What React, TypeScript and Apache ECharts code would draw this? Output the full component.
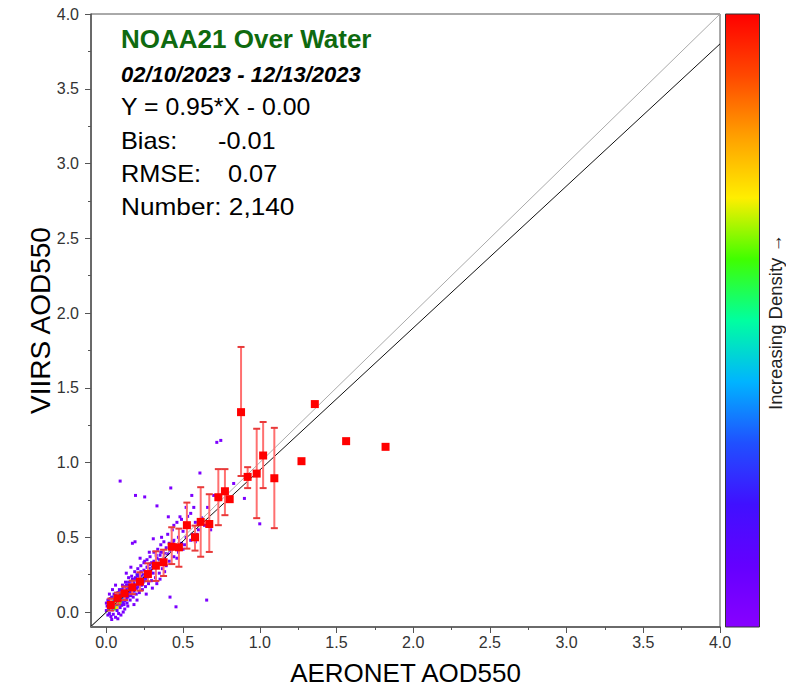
import React, { useEffect, useRef } from "react";
import * as echarts from "echarts";

const SANS = "'Liberation Sans', Arial, sans-serif";

const xLabelValues = [0, 0.5, 1, 1.5, 2, 2.5, 3, 3.5, 4];
const minorTickValues = [0, 0.25, 0.5, 0.75, 1, 1.25, 1.5, 1.75, 2, 2.25, 2.5, 2.75, 3, 3.25, 3.5, 3.75, 4];

const oneToOneLine = [[-0.1, -0.1], [4.0, 4.0]];
const fitLine = [[-0.1, -0.095], [4.0, 3.8]];

const binX = [0.029, 0.073, 0.119, 0.169, 0.219, 0.271, 0.323, 0.373, 0.426, 0.473, 0.525, 0.578, 0.615, 0.671, 0.73, 0.773, 0.804, 0.878, 0.921, 0.98, 1.022, 1.095, 1.272, 1.359, 1.563, 1.82];
const binY = [0.047, 0.092, 0.125, 0.165, 0.203, 0.254, 0.31, 0.333, 0.437, 0.433, 0.581, 0.5, 0.603, 0.589, 0.768, 0.808, 0.755, 1.337, 0.904, 0.926, 1.047, 0.895, 1.009, 1.391, 1.143, 1.105];
const binLow = [0.01, 0.05, 0.08, 0.12, 0.143, 0.206, 0.208, 0.241, 0.321, 0.303, 0.424, 0.411, 0.37, 0.402, 0.581, 0.648, null, 0.91, 0.829, 0.628, 0.829, 0.561, null, null, null, null];
const binHigh = [0.09, 0.13, 0.17, 0.21, 0.266, 0.326, 0.406, 0.417, 0.567, 0.558, 0.732, 0.578, 0.835, 0.788, 0.956, 0.956, null, 1.773, 0.969, 1.226, 1.271, 1.232, null, null, null, null];

// [AERONET, VIIRS, relative density 0..1]
const densityPoints = [
  [0.03, 0.03, 1.0], [0.04, 0.035, 0.95], [0.035, 0.045, 0.9], [0.05, 0.04, 0.85], [0.045, 0.055, 0.8], [0.06, 0.05, 0.75],
  [0.025, 0.02, 0.8], [0.055, 0.065, 0.7], [0.065, 0.06, 0.68], [0.07, 0.075, 0.6], [0.075, 0.065, 0.55], [0.08, 0.08, 0.5],
  [0.06, 0.08, 0.48], [0.085, 0.07, 0.45], [0.09, 0.09, 0.42], [0.04, 0.06, 0.5], [0.02, 0.035, 0.55], [0.015, 0.015, 0.45],
  [0.03, 0.055, 0.4], [0.05, 0.025, 0.45], [0.065, 0.04, 0.4], [0.095, 0.1, 0.35], [0.1, 0.085, 0.33], [0.105, 0.11, 0.3],
  [0.11, 0.1, 0.3], [0.115, 0.12, 0.27], [0.12, 0.11, 0.25], [0.125, 0.13, 0.24], [0.13, 0.12, 0.22], [0.135, 0.14, 0.22],
  [0.14, 0.13, 0.2], [0.08, 0.1, 0.3], [0.07, 0.045, 0.32], [0.045, 0.075, 0.3], [0.02, 0.05, 0.3], [0.035, 0.015, 0.35],
  [0.085, 0.055, 0.25], [0.1, 0.07, 0.22], [0.055, 0.09, 0.25], [0.09, 0.12, 0.2], [0.15, 0.15, 0.2], [0.155, 0.16, 0.18],
  [0.16, 0.15, 0.17], [0.17, 0.18, 0.2], [0.175, 0.17, 0.15], [0.18, 0.19, 0.16], [0.19, 0.18, 0.14], [0.2, 0.21, 0.17],
  [0.21, 0.2, 0.12], [0.22, 0.23, 0.15], [0.23, 0.22, 0.12], [0.24, 0.25, 0.1],
  [0.02, 0.06, 0.55], [0.06, 0.02, 0.6], [0.09, 0.05, 0.5], [0.05, 0.1, 0.45], [0.1, 0.06, 0.4], [0.07, 0.11, 0.35],
  [0.12, 0.08, 0.3], [0.08, 0.13, 0.3], [0.13, 0.1, 0.28], [0.1, 0.15, 0.25], [0.15, 0.11, 0.25], [0.12, 0.16, 0.22],
  [0.16, 0.13, 0.2], [0.14, 0.18, 0.2], [0.18, 0.14, 0.18], [0.2, 0.25, 0.15], [0.22, 0.18, 0.15], [0.25, 0.21, 0.12],
  [0.17, 0.22, 0.12], [0.27, 0.25, 0.12], [0.28, 0.32, 0.1], [0.03, 0.08, 0.7], [0.07, 0.03, 0.72], [0.015, 0.055, 0.62],
  [0.09, 0.065, 0.65],
  [0.0, 0.01, 0.05], [0.01, -0.02, 0.05], [0.005, 0.04, 0.06], [0.02, -0.01, 0.07], [0.03, -0.03, 0.04], [0.045, -0.015, 0.06],
  [0.06, -0.035, 0.04], [0.07, 0.01, 0.08], [0.08, -0.01, 0.05], [0.09, 0.03, 0.06], [0.1, 0.045, 0.05], [0.11, 0.06, 0.07],
  [0.12, 0.075, 0.05], [0.13, 0.09, 0.06], [0.14, 0.1, 0.05], [0.015, 0.07, 0.06], [0.025, 0.09, 0.05], [0.035, 0.1, 0.07],
  [0.05, 0.12, 0.05], [0.065, 0.11, 0.08], [0.075, 0.13, 0.05], [0.085, 0.15, 0.06], [0.1, 0.14, 0.07], [0.11, 0.16, 0.05],
  [0.12, 0.17, 0.06], [0.13, 0.18, 0.05], [0.145, 0.2, 0.05], [0.15, 0.12, 0.08], [0.16, 0.11, 0.05], [0.165, 0.13, 0.07],
  [0.17, 0.14, 0.05], [0.18, 0.15, 0.06], [0.185, 0.22, 0.05], [0.19, 0.23, 0.07], [0.2, 0.16, 0.05], [0.21, 0.17, 0.06],
  [0.215, 0.25, 0.05], [0.225, 0.27, 0.06], [0.23, 0.18, 0.05], [0.24, 0.2, 0.07], [0.245, 0.28, 0.05], [0.25, 0.23, 0.08],
  [0.26, 0.27, 0.06], [0.265, 0.22, 0.05], [0.27, 0.3, 0.07], [0.28, 0.25, 0.05], [0.285, 0.32, 0.06], [0.29, 0.28, 0.08],
  [0.3, 0.3, 0.06], [0.305, 0.26, 0.05], [0.31, 0.34, 0.05], [0.32, 0.3, 0.06], [0.33, 0.36, 0.05], [0.34, 0.32, 0.05],
  [0.35, 0.38, 0.06], [0.36, 0.34, 0.05], [0.37, 0.4, 0.05], [0.38, 0.36, 0.05], [0.39, 0.43, 0.05], [0.4, 0.39, 0.05],
  [0.41, 0.46, 0.05], [0.42, 0.41, 0.05], [0.44, 0.48, 0.05], [0.45, 0.43, 0.05], [0.47, 0.5, 0.05], [0.49, 0.46, 0.05],
  [0.5, 0.54, 0.05], [0.52, 0.5, 0.05], [0.54, 0.57, 0.05], [0.56, 0.52, 0.05], [0.58, 0.6, 0.05], [0.6, 0.55, 0.05],
  [0.62, 0.63, 0.05], [0.64, 0.58, 0.05],
  [0.105, 0.18, 0.05], [0.115, 0.05, 0.05], [0.125, 0.2, 0.06], [0.135, 0.06, 0.05], [0.145, 0.23, 0.05], [0.155, 0.08, 0.06],
  [0.165, 0.24, 0.05], [0.175, 0.1, 0.05], [0.185, 0.27, 0.06], [0.195, 0.12, 0.05], [0.205, 0.29, 0.05], [0.215, 0.13, 0.06],
  [0.225, 0.31, 0.05], [0.235, 0.15, 0.05], [0.245, 0.33, 0.05], [0.255, 0.17, 0.06], [0.265, 0.35, 0.05], [0.275, 0.19, 0.05],
  [0.285, 0.37, 0.05], [0.295, 0.21, 0.05], [0.31, 0.4, 0.05], [0.32, 0.23, 0.05], [0.335, 0.42, 0.05], [0.345, 0.26, 0.05],
  [0.355, 0.45, 0.05], [0.365, 0.29, 0.05], [0.375, 0.47, 0.05], [0.39, 0.31, 0.05], [0.4, 0.52, 0.05], [0.41, 0.34, 0.05],
  [0.43, 0.55, 0.05], [0.44, 0.37, 0.05], [0.46, 0.6, 0.05], [0.47, 0.4, 0.05], [0.49, 0.62, 0.05], [0.51, 0.45, 0.05],
  [0.53, 0.64, 0.05], [0.55, 0.48, 0.05], [0.57, 0.7, 0.05], [0.59, 0.52, 0.05], [0.195, 0.16, 0.08], [0.225, 0.2, 0.08],
  [0.255, 0.26, 0.09], [0.285, 0.29, 0.08], [0.315, 0.31, 0.08], [0.345, 0.35, 0.07], [0.275, 0.27, 0.1], [0.205, 0.24, 0.1],
  [0.165, 0.2, 0.09], [0.145, 0.16, 0.12], [0.125, 0.15, 0.1], [0.135, 0.11, 0.1], [0.155, 0.13, 0.12], [0.175, 0.2, 0.1],
  [0.185, 0.17, 0.1], [0.235, 0.24, 0.09], [0.265, 0.3, 0.07], [0.295, 0.33, 0.06], [0.325, 0.38, 0.06], [0.355, 0.4, 0.06],
  [0.385, 0.39, 0.06], [0.415, 0.44, 0.05], [0.43, 0.47, 0.05], [0.035, -0.05, 0.04], [0.075, -0.045, 0.04], [0.095, -0.02, 0.04],
  [0.11, 0.0, 0.04], [0.0, 0.06, 0.04], [0.01, 0.08, 0.05], [0.02, 0.12, 0.04],
  [0.09, 0.876, 0.03], [0.19, 0.78, 0.03], [0.25, 0.77, 0.03], [0.42, 0.83, 0.03], [0.33, 0.71, 0.03], [0.61, 0.93, 0.03],
  [0.746, 1.148, 0.03], [0.72, 1.135, 0.03], [0.404, 0.637, 0.03], [0.48, 0.637, 0.03], [0.17, 0.46, 0.03], [0.187, 0.47, 0.03],
  [0.306, 0.49, 0.03], [0.437, 0.475, 0.03], [0.557, 0.78, 0.03], [0.654, 0.08, 0.03], [0.454, 0.035, 0.03], [0.415, 0.1, 0.03],
  [0.329, 0.19, 0.03], [1.0, 0.59, 0.03], [0.26, 0.12, 0.04], [0.3, 0.16, 0.04], [0.35, 0.22, 0.04], [0.38, 0.27, 0.04],
  [0.28, 0.4, 0.04], [0.22, 0.36, 0.04], [0.16, 0.3, 0.04], [0.13, 0.26, 0.04], [0.2, 0.08, 0.04], [0.18, 0.05, 0.04],
  [0.25, 0.34, 0.04], [0.36, 0.5, 0.04], [0.44, 0.58, 0.04], [0.5, 0.42, 0.04], [0.55, 0.66, 0.04], [0.46, 0.36, 0.04],
  [0.52, 0.7, 0.03], [0.58, 0.47, 0.03], [0.66, 0.7, 0.03], [0.68, 0.55, 0.03], [0.7, 0.78, 0.03], [0.83, 0.86, 0.03],
  [0.9, 0.76, 0.03], [0.12, 0.02, 0.04], [0.14, 0.04, 0.04], [0.04, 0.15, 0.04], [0.06, 0.18, 0.04],
];

const densityColors = ["#8800ff", "#6400ff", "#4010ff", "#2050ff", "#00b4ff", "#00ffa0", "#40ff00", "#ffee00", "#ffa000", "#ff4800", "#ff0000"];

const titleText = "NOAA21 Over Water";
const dateText = "02/10/2023 - 12/13/2023";
const fitText = "Y = 0.95*X - 0.00";
const statLabels = ["Bias:", "RMSE:"];
const statValues = ["-0.01", "0.07"];
const numberText = "Number: 2,140";

export default function App() {
  const ref = useRef<HTMLDivElement>(null);

  useEffect(() => {
    if (!ref.current) return;
    const chart = echarts.init(ref.current, null, { renderer: "svg" });

    const gridL = 91, gridT = 14, gridW = 629, gridH = 613;

    const errData = binX
      .map((x, i) => [x, binLow[i], binHigh[i]])
      .filter((d) => d[1] != null && d[2] != null);

    const commonAxis = (isX: boolean) => ({
      type: "value",
      min: -0.1,
      max: 4.0,
      splitLine: { show: false },
      axisLine: { show: true, onZero: false, lineStyle: { color: "#555", width: 1.5 } },
      axisTick: { show: true, customValues: xLabelValues, length: 6, lineStyle: { color: "#555", width: 1 } },
      axisLabel: {
        customValues: xLabelValues,
        formatter: (v: number) => v.toFixed(1),
        color: "#333",
        fontSize: 16,
        fontFamily: SANS,
        margin: isX ? 7 : 12,
      },
    });

    const minorAxis = () => ({
      type: "value",
      min: -0.1,
      max: 4.0,
      offset: 0,
      splitLine: { show: false },
      axisLine: { show: false, onZero: false },
      axisTick: { show: true, customValues: minorTickValues, length: 3, lineStyle: { color: "#555", width: 1 } },
      axisLabel: { show: false },
    });

    const stops = densityColors.map((c, i) => ({ offset: 1 - i / (densityColors.length - 1), color: c }));

    chart.setOption({
      animation: false,
      backgroundColor: "#ffffff",
      grid: {
        left: gridL,
        top: gridT,
        width: gridW,
        height: gridH,
        show: true,
        borderColor: "#555",
        borderWidth: 1,
        backgroundColor: "transparent",
        containLabel: false,
        outerBoundsMode: "none",
      },
      xAxis: [
        {
          ...commonAxis(true),
          position: "bottom",
          name: "AERONET AOD550",
          nameLocation: "middle",
          nameGap: 33,
          nameMoveOverlap: false,
          nameTextStyle: { fontSize: 26, fontFamily: SANS, color: "#000" },
        },
        { ...minorAxis(), position: "bottom" },
      ],
      yAxis: [
        {
          ...commonAxis(false),
          position: "left",
          name: "VIIRS AOD550",
          nameLocation: "middle",
          nameGap: 37,
          nameMoveOverlap: false,
          nameTextStyle: { fontSize: 28, fontFamily: SANS, color: "#000" },
        },
        { ...minorAxis(), position: "left" },
      ],
      visualMap: {
        show: false,
        type: "continuous",
        min: 0,
        max: 1,
        dimension: 2,
        seriesIndex: 0,
        inRange: { color: densityColors },
      },
      series: [
        {
          type: "scatter",
          data: densityPoints,
          symbol: "rect",
          symbolSize: 3,
          itemStyle: { opacity: 1 },
          xAxisIndex: 0,
          yAxisIndex: 0,
          silent: true,
          z: 2,
        },
        {
          type: "line",
          data: oneToOneLine,
          showSymbol: false,
          symbol: "none",
          lineStyle: { color: "#aaaaaa", width: 1 },
          z: 3,
        },
        {
          type: "line",
          data: fitLine,
          showSymbol: false,
          symbol: "none",
          lineStyle: { color: "#111111", width: 1 },
          z: 3,
        },
        {
          type: "custom",
          data: errData,
          encode: { x: 0, y: [1, 2] },
          z: 4,
          renderItem: (params: any, api: any) => {
            const x = api.value(0);
            const lo = api.coord([x, api.value(1)]);
            const hi = api.coord([x, api.value(2)]);
            const w = 3.5;
            return {
              type: "group",
              children: [
                { type: "line", shape: { x1: lo[0], y1: lo[1], x2: hi[0], y2: hi[1] }, style: { stroke: "#ff7070", lineWidth: 2 } },
                { type: "line", shape: { x1: hi[0] - w, y1: hi[1], x2: hi[0] + w, y2: hi[1] }, style: { stroke: "#e83a3a", lineWidth: 2 } },
                { type: "line", shape: { x1: lo[0] - w, y1: lo[1], x2: lo[0] + w, y2: lo[1] }, style: { stroke: "#e83a3a", lineWidth: 2 } },
              ],
            };
          },
        },
        {
          type: "scatter",
          data: binX.map((x, i) => [x, binY[i]]),
          symbol: "rect",
          symbolSize: 8,
          itemStyle: { color: "#ff0000", opacity: 1 },
          z: 5,
        },
      ],
      graphic: [
        {
          type: "text",
          x: 121,
          y: 38.5,
          style: { text: titleText, fontSize: 26, fontWeight: "bold", fontFamily: SANS, fill: "#0f6a0f", verticalAlign: "middle" },
        },
        {
          type: "text",
          x: 121,
          y: 74.5,
          style: { text: dateText, fontSize: 22, fontWeight: "bold", fontStyle: "italic", fontFamily: SANS, fill: "#000", verticalAlign: "middle" },
        },
        {
          type: "text",
          x: 121,
          y: 107,
          scaleX: 1.08,
          style: { text: fitText, fontSize: 23, fontFamily: SANS, fill: "#000", verticalAlign: "middle" },
        },
        {
          type: "text",
          x: 121,
          y: 141.2,
          scaleX: 1.1,
          style: { text: statLabels[0], fontSize: 23, fontFamily: SANS, fill: "#000", verticalAlign: "middle" },
        },
        {
          type: "text",
          x: 218,
          y: 141.2,
          scaleX: 1.1,
          style: { text: statValues[0], fontSize: 23, fontFamily: SANS, fill: "#000", verticalAlign: "middle" },
        },
        {
          type: "text",
          x: 121,
          y: 173.7,
          scaleX: 1.1,
          style: { text: statLabels[1], fontSize: 23, fontFamily: SANS, fill: "#000", verticalAlign: "middle" },
        },
        {
          type: "text",
          x: 228,
          y: 173.7,
          scaleX: 1.1,
          style: { text: statValues[1], fontSize: 23, fontFamily: SANS, fill: "#000", verticalAlign: "middle" },
        },
        {
          type: "text",
          x: 121,
          y: 207.2,
          scaleX: 1.14,
          style: { text: numberText, fontSize: 23, fontFamily: SANS, fill: "#000", verticalAlign: "middle" },
        },
        {
          type: "rect",
          shape: { x: 725.5, y: 14, width: 34, height: 613 },
          style: {
            fill: new echarts.graphic.LinearGradient(0, 0, 0, 1, stops.slice().reverse()),
            stroke: "#333",
            lineWidth: 1,
          },
        },
        {
          type: "text",
          x: 775,
          y: 322,
          rotation: Math.PI / 2,
          style: { text: "Increasing Density \u2192", fontSize: 18.5, fontFamily: SANS, fill: "#222", align: "center", verticalAlign: "middle" },
        },
      ],
    });

    return () => chart.dispose();
  }, []);

  return <div ref={ref} style={{ position: "fixed", left: 0, top: 0, width: 786, height: 688 }} />;
}
